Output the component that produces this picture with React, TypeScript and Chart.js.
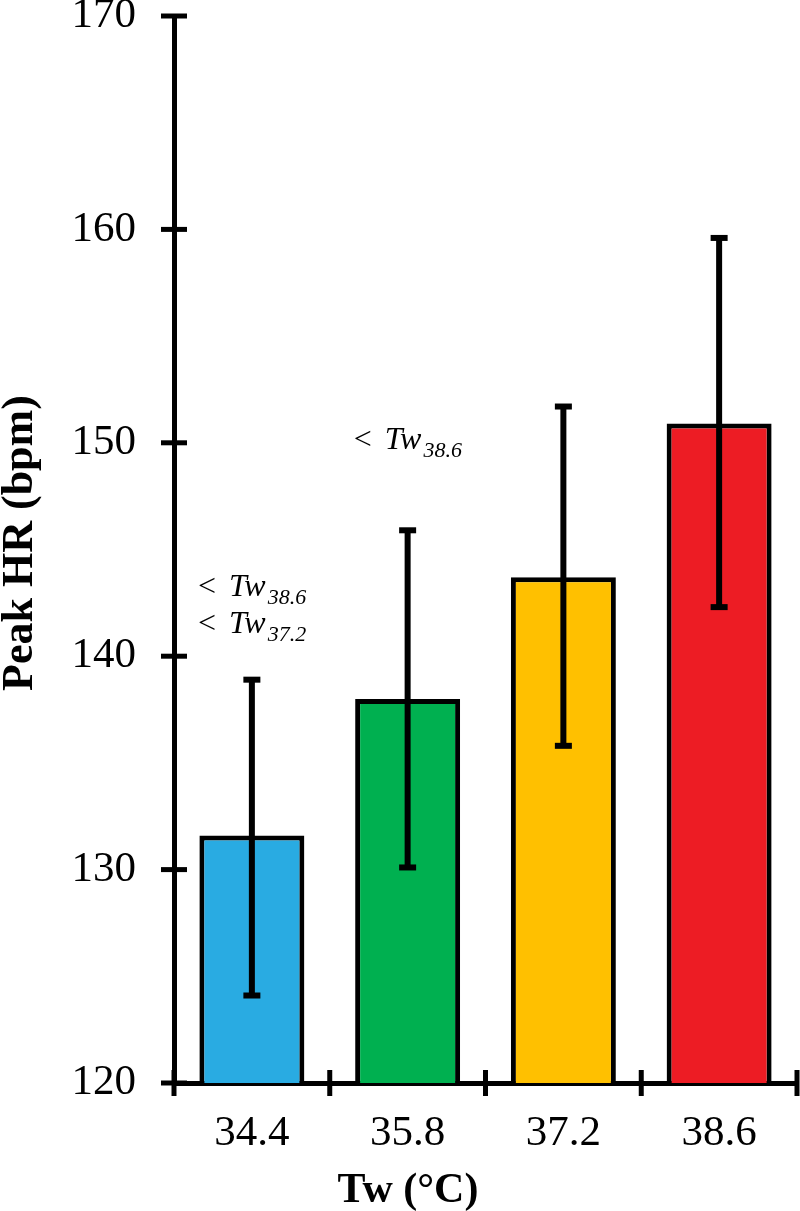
import React, { useEffect, useRef } from "react";
import { Chart, registerables } from "chart.js";

Chart.register(...registerables);

// ---- Data ----
const categories = ["34.4", "35.8", "37.2", "38.6"];
const peakHR = [131.6, 138.0, 143.7, 150.9];
const errLow = [124.1, 130.1, 135.8, 142.3];
const errHigh = [138.9, 145.9, 151.7, 159.6];
const barColors = ["#29ABE2", "#00B050", "#FFC000", "#ED1C24"];
const yMin = 120;
const yMax = 170;
const yStep = 10;

// Significance annotations: category index, y value (data units), subscript
const annotCategory = [0, 0, 1];
const annotY = [142.8, 141.1, 149.7];
const annotSub = ["38.6", "37.2", "38.6"];

const yTitle = "Peak HR (bpm)";
const xTitle = "Tw (°C)";

const SERIF = '"Liberation Serif", "Times New Roman", Times, serif';

const overlayPlugin = {
  id: "overlay",
  afterDatasetsDraw(chart: any) {
    const ctx = chart.ctx;
    const meta = chart.getDatasetMeta(0);
    const ys = chart.scales.y;
    ctx.save();
    ctx.strokeStyle = "#000";
    ctx.fillStyle = "#000";
    ctx.lineWidth = 6;
    ctx.lineCap = "butt";
    meta.data.forEach((bar: any, i: number) => {
      const x = bar.x;
      const yh = ys.getPixelForValue(errHigh[i]);
      const yl = ys.getPixelForValue(errLow[i]);
      ctx.beginPath();
      ctx.moveTo(x, yh);
      ctx.lineTo(x, yl);
      ctx.stroke();
      ctx.fillRect(x - 8.5, yh - 3, 17, 6);
      ctx.fillRect(x - 8.5, yl - 3, 17, 6);
    });
    ctx.restore();
  },
  afterDraw(chart: any) {
    const ctx = chart.ctx;
    const xs = chart.scales.x;
    const ys = chart.scales.y;
    ctx.save();
    ctx.strokeStyle = "#000";
    ctx.fillStyle = "#000";
    ctx.lineWidth = 5;
    ctx.lineCap = "butt";
    // y tick marks crossing the axis
    const axX = chart.chartArea.left;
    ys.ticks.forEach((t: any) => {
      const py = ys.getPixelForValue(t.value);
      ctx.beginPath();
      ctx.moveTo(axX - 13, py);
      ctx.lineTo(axX + 13, py);
      ctx.stroke();
    });
    // x tick marks at category boundaries crossing the axis
    const axY = chart.chartArea.bottom;
    const n = categories.length;
    const w = (xs.right - xs.left) / n;
    for (let i = 0; i <= n; i++) {
      const px = xs.left + i * w;
      ctx.beginPath();
      ctx.moveTo(px, axY - 13);
      ctx.lineTo(px, axY + 13);
      ctx.stroke();
    }
    // annotations
    ctx.textAlign = "left";
    ctx.textBaseline = "alphabetic";
    annotCategory.forEach((c, i) => {
      const x0 = xs.getPixelForValue(c) - 54;
      const yb = ys.getPixelForValue(annotY[i]);
      ctx.font = `32px ${SERIF}`;
      ctx.fillText("<", x0, yb);
      ctx.font = `italic 32px ${SERIF}`;
      ctx.fillText("Tw", x0 + 31, yb);
      const tw = ctx.measureText("Tw").width;
      ctx.font = `italic 22px ${SERIF}`;
      ctx.fillText(annotSub[i], x0 + 31 + tw + 2, yb + 8);
    });
    // axis titles
    ctx.font = `bold 42px ${SERIF}`;
    ctx.textAlign = "center";
    ctx.fillText(xTitle, 408, 1202);
    ctx.save();
    ctx.translate(32, 543);
    ctx.rotate(-Math.PI / 2);
    ctx.font = `bold 44px ${SERIF}`;
    ctx.fillText(yTitle, 0, 0);
    ctx.restore();
    ctx.restore();
  },
};

export default function App() {
  const ref = useRef<HTMLCanvasElement | null>(null);
  useEffect(() => {
    let chart: any = null;
    let cancelled = false;
    const build = () => {
      if (cancelled || !ref.current) return;
      chart = new Chart(ref.current, {
        type: "bar",
        data: {
          labels: categories,
          datasets: [
            {
              data: peakHR,
              backgroundColor: barColors,
              borderColor: "#000",
              borderWidth: 5,
              borderSkipped: false,
              barPercentage: 0.674,
              categoryPercentage: 1,
            },
          ],
        },
        options: {
          responsive: false,
          animation: false,
          devicePixelRatio: 1,
          layout: { padding: { left: 0, top: 16, right: 3, bottom: 0 } },
          plugins: {
            legend: { display: false },
            tooltip: { enabled: false },
            title: { display: false },
          },
          scales: {
            x: {
              offset: true,
              grid: {
                display: true,
                offset: true,
                drawOnChartArea: false,
                drawTicks: true,
                tickLength: 13,
                color: "rgba(0,0,0,0)",
              },
              border: { display: true, color: "#000", width: 5 },
              ticks: {
                color: "#000",
                font: { family: SERIF, size: 43 },
                padding: 12,
                maxRotation: 0,
              },
              afterFit(scale: any) {
                scale.height = 128;
                scale.paddingLeft = 0;
                scale.paddingRight = 0;
              },
            },
            y: {
              min: yMin,
              max: yMax,
              grid: {
                display: true,
                drawOnChartArea: false,
                drawTicks: true,
                tickLength: 13,
                color: "rgba(0,0,0,0)",
              },
              border: { display: true, color: "#000", width: 5 },
              ticks: {
                stepSize: yStep,
                color: "#000",
                font: { family: SERIF, size: 43 },
                padding: 25,
              },
              afterFit(scale: any) {
                scale.width = 174;
                scale.paddingTop = 0;
                scale.paddingBottom = 0;
              },
            },
          },
        },
        plugins: [overlayPlugin],
      } as any);
    };
    const fam = '"Liberation Serif"';
    const loads = [
      `43px ${fam}`,
      `bold 44px ${fam}`,
      `italic 32px ${fam}`,
      `32px ${fam}`,
    ].map((f) => (document as any).fonts.load(f).catch(() => null));
    Promise.all(loads).then(build, build);
    return () => {
      cancelled = true;
      if (chart) chart.destroy();
    };
  }, []);
  return (
    <div style={{ position: "absolute", left: 0, top: 0, width: 800, height: 1211, background: "#fff" }}>
      <canvas ref={ref} width={800} height={1211} style={{ display: "block" }} />
    </div>
  );
}
